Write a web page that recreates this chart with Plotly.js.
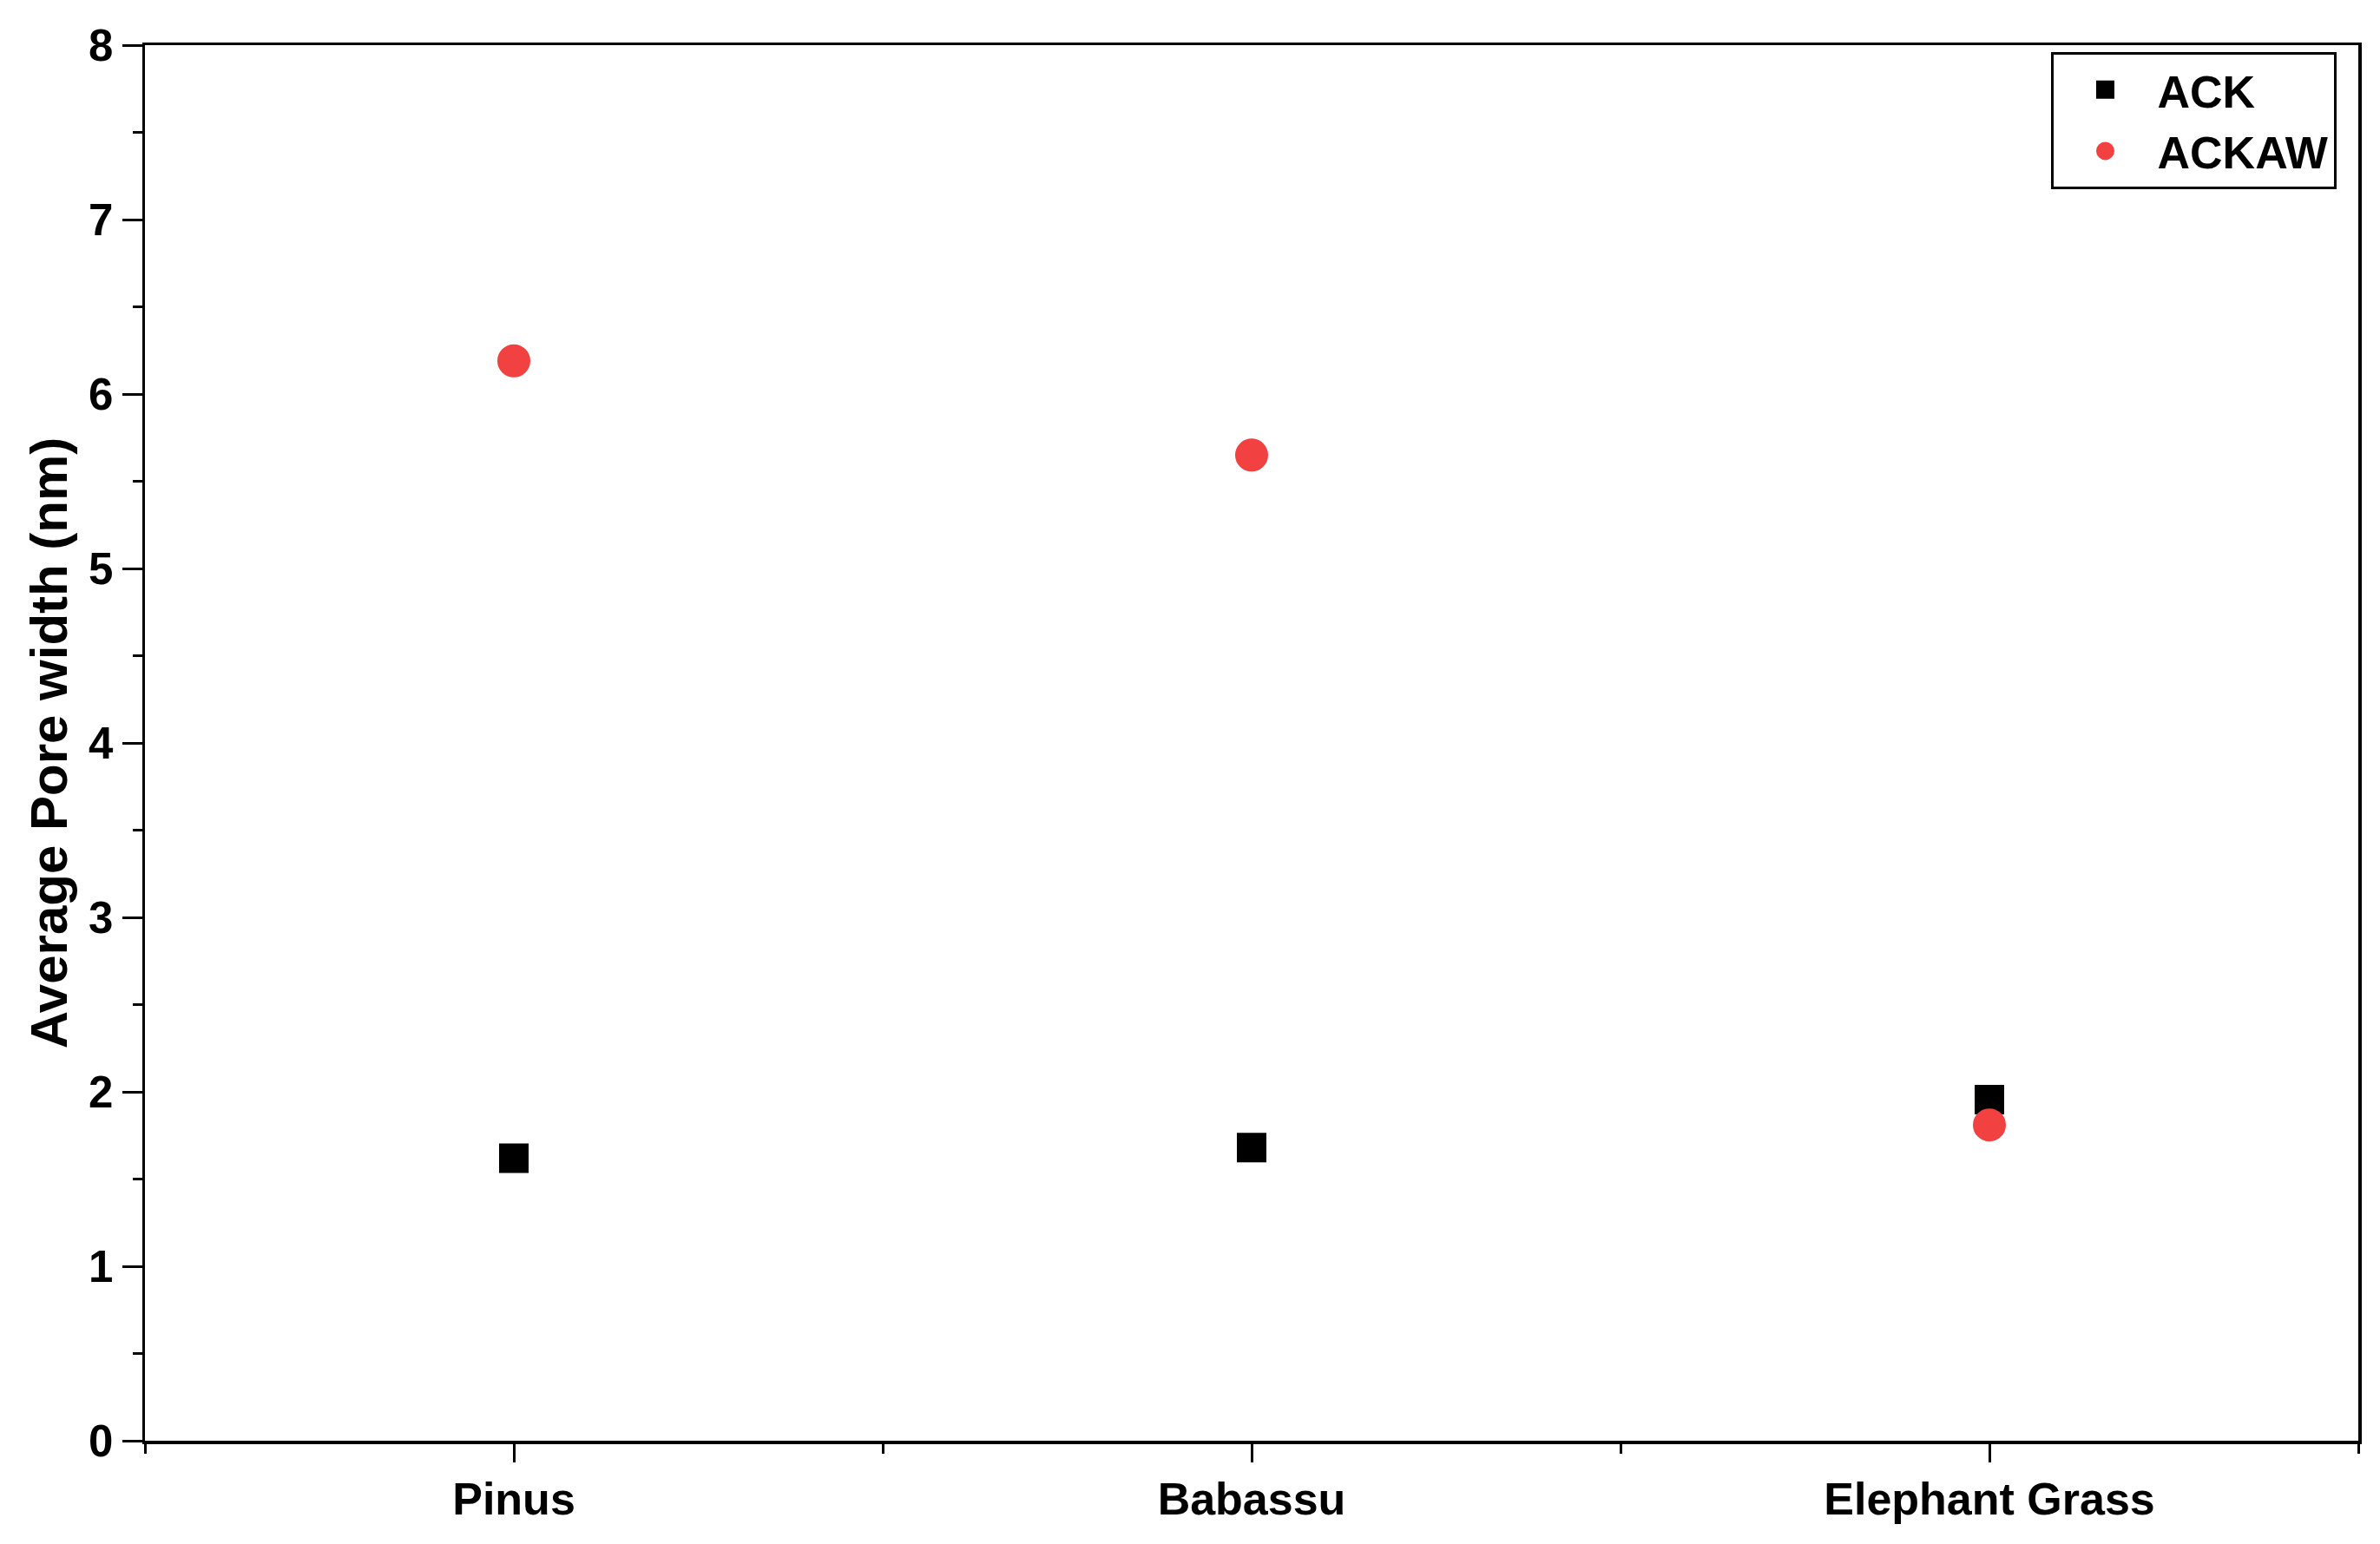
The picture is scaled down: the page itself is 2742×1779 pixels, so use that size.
<!DOCTYPE html>
<html>
<head>
<meta charset="utf-8">
<script src="https://cdn.plot.ly/plotly-3.0.1.min.js"></script>
<style>html,body{margin:0;padding:0;background:#fff;}#chart{width:2742px;height:1779px;}</style>
</head>
<body>
<div id="chart"></div>
<script>
const categories = ['Pinus', 'Babassu', 'Elephant Grass'];
const ackValues = [1.62, 1.68, 1.955];
const ackawValues = [6.19, 5.65, 1.81];
const seriesNames = ['ACK', 'ACKAW'];
const yTitle = 'Average Pore width (nm)';

const FONT = 'Liberation Sans, Arial, sans-serif';
const xIdx = categories.map((c, i) => i);
const RED = '#F24141';

const traces = [
  {
    x: xIdx, y: ackValues, name: seriesNames[0], type: 'scatter', mode: 'markers',
    marker: {symbol: 'square', size: 29, color: '#000000', line: {width: 5, color: '#000000'}}
  },
  {
    x: xIdx, y: ackawValues, name: seriesNames[1], type: 'scatter', mode: 'markers',
    marker: {symbol: 'circle', size: 33, color: RED, line: {width: 5, color: RED}}
  }
];

const layout = {
  width: 2742, height: 1779,
  margin: {l: 167, r: 25, t: 52, b: 119, pad: 0},
  paper_bgcolor: '#ffffff', plot_bgcolor: '#ffffff',
  font: {family: FONT, color: '#000', size: 50, weight: 'bold'},
  showlegend: true,
  legend: {
    x: 0.99, xanchor: 'right', y: 0.995, yanchor: 'top',
    bordercolor: '#000', borderwidth: 3, bgcolor: '#fff',
    font: {family: FONT, size: 52, color: '#000', weight: 'bold'},
    itemwidth: 110
  },
  xaxis: {
    range: [-0.5, 2.5], tickvals: xIdx, ticktext: categories,
    showline: true, linecolor: '#000', linewidth: 3.5, mirror: true,
    ticks: 'outside', ticklen: 21, tickwidth: 3, tickcolor: '#000',
    minor: {tick0: -0.5, dtick: 1, ticks: 'outside', ticklen: 11, tickwidth: 3, tickcolor: '#000', showgrid: false},
    showgrid: false, zeroline: false,
    tickfont: {family: FONT, size: 52, color: '#000', weight: 'bold'},
    ticklabelstandoff: -2
  },
  yaxis: {
    range: [0, 8], dtick: 1, tick0: 0,
    showline: true, linecolor: '#000', linewidth: 3.5, mirror: true,
    ticks: 'outside', ticklen: 23, tickwidth: 3, tickcolor: '#000',
    minor: {dtick: 0.5, ticks: 'outside', ticklen: 11, tickwidth: 3, tickcolor: '#000', showgrid: false},
    showgrid: false, zeroline: false,
    tickfont: {family: FONT, size: 51, color: '#000', weight: 'bold'},
    ticklabelstandoff: 0,
    title: {text: yTitle, font: {family: FONT, size: 60, color: '#000', weight: 'bold'}, standoff: 6}
  }
};

Plotly.newPlot('chart', traces, layout, {displayModeBar: false, staticPlot: true});
</script>
</body>
</html>
